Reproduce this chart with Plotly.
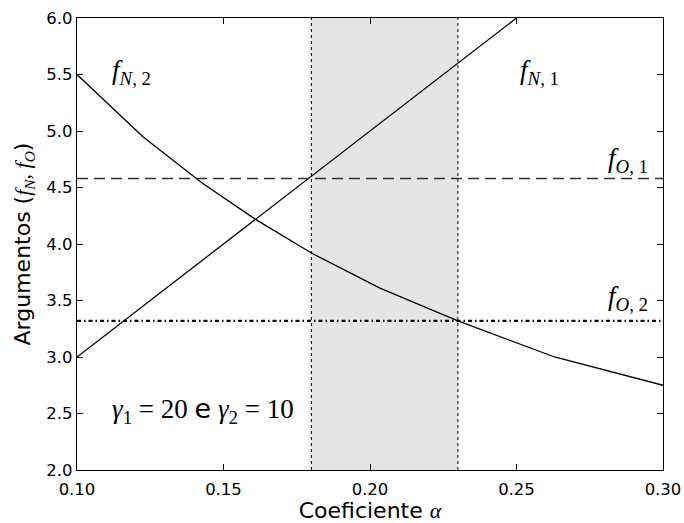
import plotly.graph_objects as go

# Coefficient alpha range and the two argument curves
alpha_n1 = [0.10, 0.25]
f_n1 = [3.0, 6.0]

alpha_n2 = [0.100, 0.1225, 0.1427, 0.1608, 0.180, 0.2034, 0.230, 0.2630, 0.300]
f_n2 = [5.50, 4.95, 4.54, 4.22, 3.92, 3.61, 3.32, 3.00, 2.75]

# Constant reference levels
alpha_span = [0.10, 0.30]
f_o1 = 4.58
f_o2 = 3.32

# Admissible alpha band
alpha_band = [0.18, 0.23]

x_ticks = [0.10, 0.15, 0.20, 0.25, 0.30]
y_ticks = [2.0, 2.5, 3.0, 3.5, 4.0, 4.5, 5.0, 5.5, 6.0]

SERIF = "Liberation Serif"
SANS = "DejaVu Sans"

fig = go.Figure()

fig.add_trace(go.Scatter(x=alpha_n1, y=f_n1, mode="lines",
                         line=dict(color="black", width=1.3), showlegend=False))
fig.add_trace(go.Scatter(x=alpha_n2, y=f_n2, mode="lines",
                         line=dict(color="black", width=1.3), showlegend=False))
fig.add_trace(go.Scatter(x=alpha_span, y=[f_o1, f_o1], mode="lines",
                         line=dict(color="#303030", width=1.5, dash="11px,6px"),
                         showlegend=False))
fig.add_trace(go.Scatter(x=alpha_span, y=[f_o2, f_o2], mode="lines",
                         line=dict(color="black", width=2.2, dash="4px,3px,1.5px,3px"),
                         showlegend=False))

# Shaded band with dotted edges
fig.add_shape(type="rect", xref="x", yref="y",
              x0=alpha_band[0], x1=alpha_band[1], y0=y_ticks[0], y1=y_ticks[-1],
              fillcolor="#e5e5e5", line=dict(width=0), layer="below")
for a in alpha_band:
    fig.add_shape(type="line", xref="x", yref="y",
                  x0=a, x1=a, y0=y_ticks[0], y1=y_ticks[-1],
                  line=dict(color="black", width=1, dash="dot"), layer="below")

math_font = dict(family=SERIF, size=27, color="black")
labels = [
    (0.1185, 5.52, "<i>f</i><sub><i>N</i>, 2</sub>"),
    (0.2577, 5.52, "<i>f</i><sub><i>N</i>, 1</sub>"),
    (0.288, 4.74, "<i>f</i><sub><i>O</i>, 1</sub>"),
    (0.288, 3.52, "<i>f</i><sub><i>O</i>, 2</sub>"),
]
for x, y, t in labels:
    fig.add_annotation(x=x, y=y, text=t, showarrow=False, font=math_font,
                       xanchor="center", yanchor="middle")

fig.add_annotation(
    x=0.143, y=2.53, showarrow=False, xanchor="center", yanchor="middle",
    text=("<i>γ</i><sub>1</sub> = 20 <span style='font-family:DejaVu Sans'>e</span> "
          "<i>γ</i><sub>2</sub> = 10"),
    font=dict(family=SERIF, size=27, color="black"))

axis_common = dict(
    showline=True, linecolor="black", linewidth=1.3, mirror="allticks",
    ticks="inside", ticklen=6, tickwidth=1.2, tickcolor="black",
    showgrid=False, zeroline=False, automargin=False,
    tickfont=dict(family=SANS, size=16.5, color="black"),
)

fig.update_xaxes(range=[alpha_span[0], alpha_span[1]], tickvals=x_ticks,
                 ticktext=[f"{v:.2f}" for v in x_ticks], ticklabelstandoff=4,
                 title=dict(text="Coeficiente <i style='font-family:Liberation Serif'>α</i>",
                            font=dict(family=SANS, size=22, color="black"), standoff=4),
                 **axis_common)
fig.update_yaxes(range=[y_ticks[0], y_ticks[-1]], tickvals=y_ticks,
                 ticktext=[f"{v:.1f}" for v in y_ticks],
                 title=dict(text=("Argumentos (<span style='font-family:Liberation Serif'>"
                                  "<i>f</i><sub><i>N</i></sub>, <i>f</i><sub><i>O</i></sub>"
                                  "</span>)"),
                            font=dict(family=SANS, size=22, color="black"), standoff=9),
                 **axis_common)

fig.update_layout(
    width=684, height=523,
    margin=dict(l=77, r=21, t=18, b=53, autoexpand=False),
    plot_bgcolor="white", paper_bgcolor="white",
    showlegend=False,
)

fig.write_html("out.html")
